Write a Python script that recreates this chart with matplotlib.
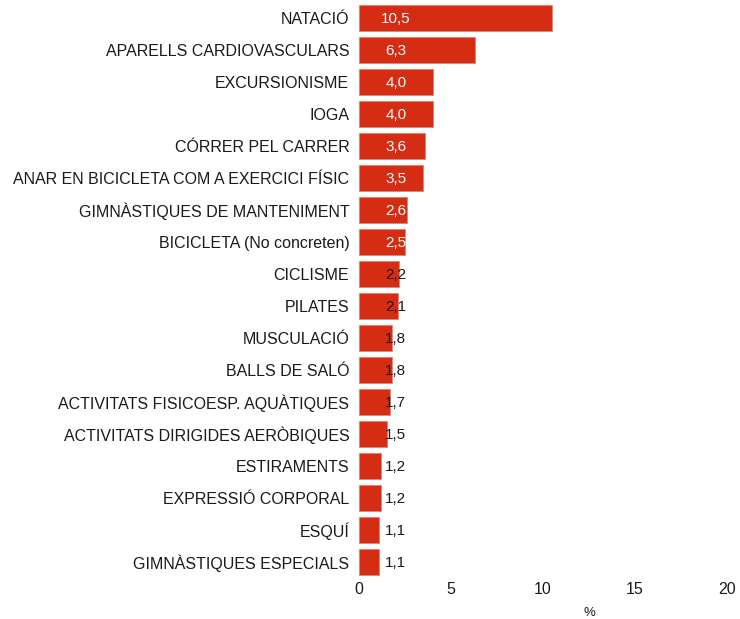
import matplotlib
matplotlib.use("Agg")
import matplotlib.pyplot as plt

plt.rcParams['font.family'] = ['Liberation Sans', 'DejaVu Sans']

categories = [
    "NATACIÓ", "APARELLS CARDIOVASCULARS", "EXCURSIONISME", "IOGA",
    "CÓRRER PEL CARRER", "ANAR EN BICICLETA COM A EXERCICI FÍSIC",
    "GIMNÀSTIQUES DE MANTENIMENT", "BICICLETA (No concreten)", "CICLISME",
    "PILATES", "MUSCULACIÓ", "BALLS DE SALÓ", "ACTIVITATS FISICOESP. AQUÀTIQUES",
    "ACTIVITATS DIRIGIDES AERÒBIQUES", "ESTIRAMENTS", "EXPRESSIÓ CORPORAL",
    "ESQUÍ", "GIMNÀSTIQUES ESPECIALS",
]
values = [10.5, 6.3, 4.0, 4.0, 3.6, 3.5, 2.6, 2.5, 2.2, 2.1, 1.8, 1.8, 1.7,
          1.5, 1.2, 1.2, 1.1, 1.1]
xticks = [0, 5, 10, 15, 20]

fig = plt.figure(figsize=(7.40, 6.19), dpi=100)
ax = fig.add_axes([0.4851, 0.0637, 0.4973, 0.936])

color = "#D52D13"
y = list(range(len(categories)))
ax.barh(y, values, height=0.81, color=color, edgecolor="#E88070", linewidth=0.6)

label_x = 2.0
for yi, v in zip(y, values):
    c = "white" if v >= 2.5 else "#1a1a1a"
    ax.text(label_x, yi, f"{v:.1f}".replace(".", ","), ha="center",
            va="center_baseline", color=c, fontsize=11)

ax.set_ylim(len(categories) - 0.45, -0.55)
ax.set_xlim(0, 20)
ax.set_yticks(y)
ax.set_yticklabels(categories, fontsize=11.5, color="#1a1a1a",
                   va="center_baseline")
ax.set_xticks(xticks)
ax.set_xticklabels([str(t) for t in xticks], fontsize=11.5, color="#1a1a1a")
ax.tick_params(axis="both", length=0)
ax.tick_params(axis="y", pad=7)
ax.tick_params(axis="x", pad=2)
for s in ax.spines.values():
    s.set_visible(False)
ax.text(12.55, -0.057, "%", transform=ax.get_xaxis_transform(), ha="center",
        va="center", fontsize=9.5, color="#1a1a1a")

fig.savefig("out.png", dpi=100)
